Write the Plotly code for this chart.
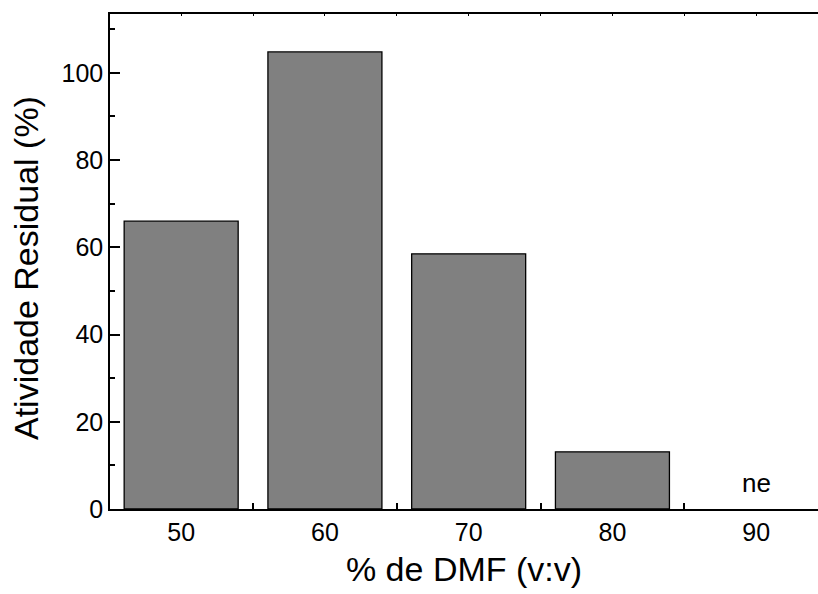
import plotly.graph_objects as go

categories = [50, 60, 70, 80, 90]
values = [66.0, 104.8, 58.5, 13.1, None]
labels_note = ["", "", "", "", "ne"]

FONT = "Liberation Sans, Arial, sans-serif"

fig = go.Figure()
fig.add_trace(go.Bar(
    x=categories, y=values, width=7.93,
    marker=dict(color="#808080", line=dict(color="black", width=1.3)),
    showlegend=False,
))
# empty trace to bring the top axis
fig.add_trace(go.Scatter(x=[], y=[], xaxis="x2", showlegend=False))

for c, t in zip(categories, labels_note):
    if t:
        fig.add_annotation(x=c, y=5.85, text=t, showarrow=False,
                           font=dict(family=FONT, size=26, color="black"))

# y-axis title placed as annotation for exact position
fig.add_annotation(xref="paper", yref="paper", x=-(110 - 26) / 708, y=(509 - 268) / 495,
                   xanchor="center", yanchor="middle", textangle=-90,
                   text="Atividade Residual (%)", showarrow=False,
                   font=dict(family=FONT, size=34, color="black"))

xr = [45.05, 94.3]
fig.update_layout(
    width=818, height=594,
    margin=dict(l=110, r=0, t=14, b=85),
    paper_bgcolor="white", plot_bgcolor="white",
    font=dict(family=FONT, color="black"),
    xaxis=dict(
        range=xr, tickvals=categories, ticktext=[str(c) for c in categories],
        showline=True, linecolor="black", linewidth=1.5,
        ticks="inside", ticklen=0, showgrid=False, zeroline=False,
        tickfont=dict(size=25),
        minor=dict(tickvals=[55, 65, 75, 85], ticks="inside", ticklen=6,
                   tickwidth=1.5, tickcolor="black"),
        title=dict(text="% de DMF (v:v)", font=dict(size=34), standoff=12),
    ),
    xaxis2=dict(
        range=xr, overlaying="x", side="top", anchor="y",
        showline=True, linecolor="black", linewidth=1.5,
        ticks="inside", ticklen=2, tickwidth=1, tick0=50, dtick=5,
        tickcolor="black", showticklabels=False, showgrid=False, zeroline=False,
    ),
    yaxis=dict(
        range=[0, 113.5], tick0=0, dtick=20,
        showline=True, linecolor="black", linewidth=1.5,
        ticks="inside", ticklen=10, tickwidth=1.5, tickcolor="black",
        showgrid=False, zeroline=False,
        tickfont=dict(size=25),
        minor=dict(tick0=10, dtick=20, ticks="inside", ticklen=5,
                   tickwidth=1.5, tickcolor="black"),
    ),
)

fig.write_html("out.html")
